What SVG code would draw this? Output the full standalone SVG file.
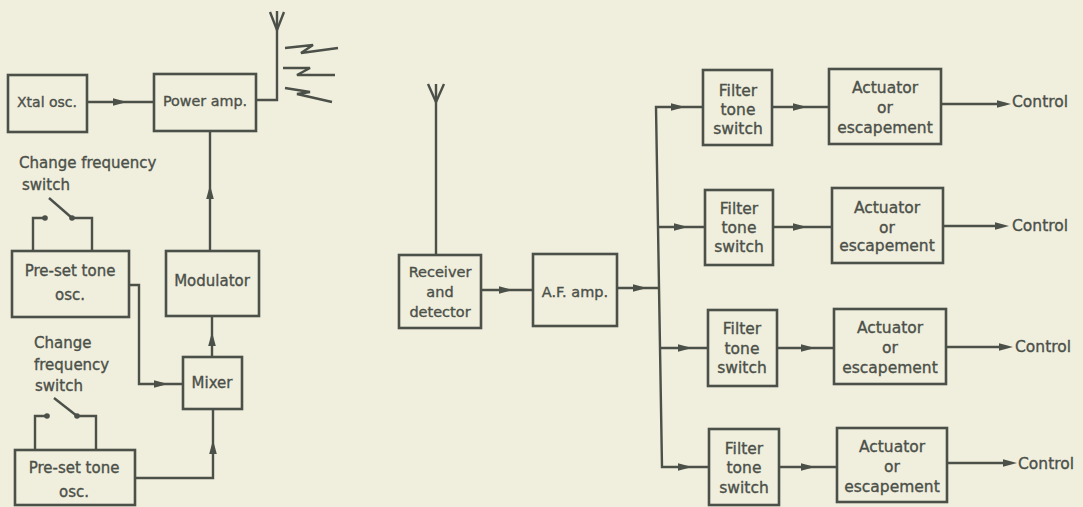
<svg xmlns="http://www.w3.org/2000/svg" xmlns:xlink="http://www.w3.org/1999/xlink" width="1083" height="507" viewBox="0 0 1083 507">
<style>
.bx{fill:none;stroke:#4b5049;stroke-width:2.6}
.ln{fill:none;stroke:#4b5049;stroke-width:2.4;stroke-linejoin:miter}
.t{font-family:"DejaVu Sans",sans-serif;font-size:15px;fill:#4b5049;stroke:#4b5049;stroke-width:0.35;text-anchor:middle}
.tl{font-family:"DejaVu Sans",sans-serif;font-size:15px;fill:#4b5049;stroke:#4b5049;stroke-width:0.35}
.r{font-size:15.5px}
.dot{fill:#4b5049}
</style>
<defs>
<path id="ah" d="M0,0 L-14,-3.8 L-14,3.8 Z" fill="#4b5049"/>
</defs>
<rect width="1083" height="507" fill="#f0eedd"/>

<g id="connectors">
  <!-- transmitter side -->
  <line class="ln" x1="87" y1="102" x2="154" y2="102"/>
  <use xlink:href="#ah" transform="translate(127,102)"/>
  <polyline class="ln" points="256,100 277,100 277,11"/>
  <polyline class="ln" points="270,12 277,30 284,12"/>
  <polyline class="ln" points="285,48 313,45 301,53 338,48"/>
  <polyline class="ln" points="283,68 310,68 297,75 335,75"/>
  <polyline class="ln" points="285,88 310,92 297,94 332,102"/>
  <line class="ln" x1="210" y1="251" x2="210" y2="131"/>
  <use xlink:href="#ah" transform="translate(210,185) rotate(-90)"/>
  <line class="ln" x1="212" y1="357" x2="212" y2="316"/>
  <use xlink:href="#ah" transform="translate(212,332) rotate(-90)"/>
  <polyline class="ln" points="129,285 139,285 139,384 183,384"/>
  <use xlink:href="#ah" transform="translate(168,384)"/>
  <polyline class="ln" points="135,478 213,478 213,409"/>
  <use xlink:href="#ah" transform="translate(213,440) rotate(-90)"/>
  <!-- switch 1 -->
  <polyline class="ln" points="33,251 33,218 45,218"/>
  <polyline class="ln" points="72,218 92,218 92,251"/>
  <line class="ln" x1="49" y1="198" x2="72" y2="218"/>
  <circle class="dot" cx="45" cy="218" r="2.8"/>
  <circle class="dot" cx="72" cy="218" r="2.8"/>
  <!-- switch 2 -->
  <polyline class="ln" points="35,450 35,416 47,416"/>
  <polyline class="ln" points="77,416 96,416 96,450"/>
  <line class="ln" x1="54" y1="398" x2="77" y2="416"/>
  <circle class="dot" cx="47" cy="416" r="2.8"/>
  <circle class="dot" cx="77" cy="416" r="2.8"/>

  <!-- receiver side -->
  <line class="ln" x1="436" y1="84" x2="436" y2="255"/>
  <polyline class="ln" points="428,84 436,102 444,84"/>
  <line class="ln" x1="481" y1="290" x2="533" y2="290"/>
  <use xlink:href="#ah" transform="translate(513,290)"/>
  <line class="ln" x1="617" y1="288" x2="660" y2="288"/>
  <use xlink:href="#ah" transform="translate(647,288)"/>
  <polyline class="ln" points="703,107 656,107 662,467 709,467"/>
  <use xlink:href="#ah" transform="translate(685,107)"/>
  <line class="ln" x1="658" y1="227" x2="705" y2="227"/>
  <use xlink:href="#ah" transform="translate(688,227)"/>
  <line class="ln" x1="660" y1="348" x2="708" y2="348"/>
  <use xlink:href="#ah" transform="translate(692,348)"/>
  <use xlink:href="#ah" transform="translate(692,467)"/>

  <line class="ln" x1="772" y1="107" x2="829" y2="107"/>
  <use xlink:href="#ah" transform="translate(807,107)"/>
  <line class="ln" x1="773" y1="227" x2="832" y2="227"/>
  <use xlink:href="#ah" transform="translate(807,227)"/>
  <line class="ln" x1="777" y1="348" x2="834" y2="348"/>
  <use xlink:href="#ah" transform="translate(815,348)"/>
  <line class="ln" x1="779" y1="467" x2="837" y2="467"/>
  <use xlink:href="#ah" transform="translate(815,467)"/>

  <line class="ln" x1="941" y1="104" x2="1005" y2="104"/>
  <use xlink:href="#ah" transform="translate(1011,104)"/>
  <line class="ln" x1="943" y1="226" x2="1002" y2="226"/>
  <use xlink:href="#ah" transform="translate(1009,226)"/>
  <line class="ln" x1="946" y1="347" x2="1006" y2="347"/>
  <use xlink:href="#ah" transform="translate(1013,347)"/>
  <line class="ln" x1="947" y1="463" x2="1010" y2="463"/>
  <use xlink:href="#ah" transform="translate(1017,463)"/>
</g>

<g id="xtal"><rect class="bx" x="8" y="75" width="79" height="57"/><text class="t" x="47" y="107" style="font-size:14px">Xtal osc.</text></g>
<g id="poweramp"><rect class="bx" x="154" y="74" width="102" height="57"/><text class="t" x="205" y="106" style="font-size:14.3px">Power amp.</text></g>
<g id="switchlabel1"><text class="tl" x="19" y="168">Change frequency</text><text class="tl" x="22" y="190">switch</text></g>
<g id="preset1"><rect class="bx" x="12" y="251" width="117" height="66"/><text class="t" x="70" y="276">Pre-set tone</text><text class="t" x="70" y="300">osc.</text></g>
<g id="modulator"><rect class="bx" x="166" y="251" width="93" height="65"/><text class="t" x="212" y="286">Modulator</text></g>
<g id="mixer"><rect class="bx" x="183" y="357" width="59" height="52"/><text class="t" x="212" y="388">Mixer</text></g>
<g id="switchlabel2"><text class="tl" x="34" y="348">Change</text><text class="tl" x="34" y="370">frequency</text><text class="tl" x="35" y="391">switch</text></g>
<g id="preset2"><rect class="bx" x="15" y="450" width="120" height="55"/><text class="t" x="74" y="473">Pre-set tone</text><text class="t" x="74" y="497">osc.</text></g>

<g id="receiver"><rect class="bx" x="399" y="255" width="82" height="73"/><text class="t" x="440" y="277" style="font-size:14.5px">Receiver</text><text class="t" x="440" y="297" style="font-size:14.5px">and</text><text class="t" x="440" y="317" style="font-size:14.5px">detector</text></g>
<g id="afamp"><rect class="bx" x="533" y="254" width="84" height="72"/><text class="t" x="575" y="297" style="font-size:14.5px">A.F. amp.</text></g>

<g id="filter1"><rect class="bx" x="703" y="70" width="69" height="75"/><text class="t r" x="738" y="96">Filter</text><text class="t r" x="738" y="115">tone</text><text class="t r" x="738" y="134">switch</text></g>
<g id="act1"><rect class="bx" x="829" y="69" width="112" height="75"/><text class="t r" x="885" y="93">Actuator</text><text class="t r" x="885" y="113">or</text><text class="t r" x="885" y="133">escapement</text></g>
<g id="ctrl1"><text class="tl r" x="1012" y="107">Control</text></g>

<g id="filter2"><rect class="bx" x="705" y="190" width="68" height="75"/><text class="t r" x="739" y="214">Filter</text><text class="t r" x="739" y="233">tone</text><text class="t r" x="739" y="252">switch</text></g>
<g id="act2"><rect class="bx" x="832" y="188" width="111" height="75"/><text class="t r" x="887" y="213">Actuator</text><text class="t r" x="887" y="233">or</text><text class="t r" x="887" y="251">escapement</text></g>
<g id="ctrl2"><text class="tl r" x="1012" y="231">Control</text></g>

<g id="filter3"><rect class="bx" x="708" y="310" width="69" height="76"/><text class="t r" x="742" y="334">Filter</text><text class="t r" x="742" y="354">tone</text><text class="t r" x="742" y="373">switch</text></g>
<g id="act3"><rect class="bx" x="834" y="309" width="112" height="75"/><text class="t r" x="890" y="333">Actuator</text><text class="t r" x="890" y="353">or</text><text class="t r" x="890" y="373">escapement</text></g>
<g id="ctrl3"><text class="tl r" x="1015" y="352">Control</text></g>

<g id="filter4"><rect class="bx" x="709" y="429" width="70" height="76"/><text class="t r" x="744" y="454">Filter</text><text class="t r" x="744" y="473">tone</text><text class="t r" x="744" y="493">switch</text></g>
<g id="act4"><rect class="bx" x="837" y="428" width="110" height="74"/><text class="t r" x="892" y="452">Actuator</text><text class="t r" x="892" y="472">or</text><text class="t r" x="892" y="492">escapement</text></g>
<g id="ctrl4"><text class="tl r" x="1018" y="469">Control</text></g>
</svg>
